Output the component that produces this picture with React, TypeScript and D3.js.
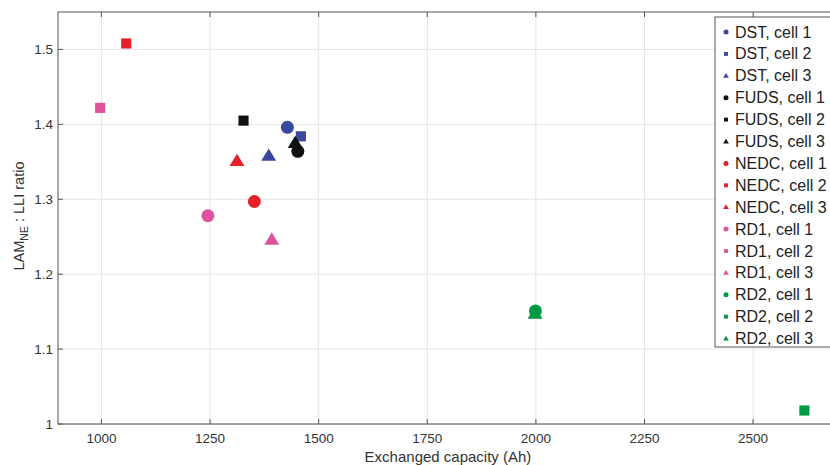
import React from "react";
import * as d3 from "d3";

const seriesNames = [
  "DST, cell 1", "DST, cell 2", "DST, cell 3",
  "FUDS, cell 1", "FUDS, cell 2", "FUDS, cell 3",
  "NEDC, cell 1", "NEDC, cell 2", "NEDC, cell 3",
  "RD1, cell 1", "RD1, cell 2", "RD1, cell 3",
  "RD2, cell 1", "RD2, cell 2", "RD2, cell 3",
];
const capacity = [1428, 1459, 1385, 1452, 1327, 1446, 1352, 1057, 1312, 1245, 997, 1392, 1999, 2618, 1998];
const ratio = [1.396, 1.384, 1.358, 1.364, 1.405, 1.375, 1.297, 1.508, 1.351, 1.278, 1.422, 1.246, 1.151, 1.018, 1.147];
const shapes = ["circle", "square", "triangle"];
const groupColors = ["#3a479c", "#111111", "#e5202a", "#df539d", "#009a44"];
const xTicks = [1000, 1250, 1500, 1750, 2000, 2250, 2500];
const yTicks = [1, 1.1, 1.2, 1.3, 1.4, 1.5];

const W = 830, H = 465;
const left = 58, right = 840, top = 12, bottom = 424;
const font = "'Liberation Sans', Arial, Helvetica, sans-serif";

function Marker({ shape, x, y, size, color }: { shape: string; x: number; y: number; size: number; color: string }) {
  if (shape === "circle") return <circle cx={x} cy={y} r={size * 0.5} fill={color} />;
  if (shape === "square") {
    const s = size * 0.78;
    return <rect x={x - s / 2} y={y - s / 2} width={s} height={s} fill={color} />;
  }
  const h = size * 0.95, w = size * 1.15;
  return <path d={`M${x},${y - h * 0.6}L${x + w / 2},${y + h * 0.4}L${x - w / 2},${y + h * 0.4}Z`} fill={color} />;
}

export default function App() {
  const x = d3.scaleLinear().domain([900, 2700]).range([left, right]);
  const y = d3.scaleLinear().domain([1, 1.55]).range([bottom, top]);
  const axisColor = "#555";
  const legX = 715, legY = 17, legH = 330, legStep = 21.9;
  return (
    <svg width={W} height={H} style={{ position: "absolute", left: 0, top: 0, background: "#fff" }}>
      <rect x={0} y={0} width={W} height={H} fill="#fff" />
      {xTicks.map((t) => (
        <line key={"gx" + t} x1={x(t)} x2={x(t)} y1={top} y2={bottom} stroke="#e6e6e6" strokeWidth={1} />
      ))}
      {yTicks.map((t) => (
        <line key={"gy" + t} x1={left} x2={right} y1={y(t)} y2={y(t)} stroke="#e6e6e6" strokeWidth={1} />
      ))}
      <rect x={left} y={top} width={right - left} height={bottom - top} fill="none" stroke={axisColor} strokeWidth={1} />
      {xTicks.map((t) => (
        <g key={"tx" + t}>
          <line x1={x(t)} x2={x(t)} y1={bottom} y2={bottom - 5} stroke={axisColor} />
          <line x1={x(t)} x2={x(t)} y1={top} y2={top + 5} stroke={axisColor} />
          <text x={x(t)} y={443} textAnchor="middle" fontSize={13.5} fill="#333" fontFamily={font}>{t}</text>
        </g>
      ))}
      {yTicks.map((t) => (
        <g key={"ty" + t}>
          <line x1={left} x2={left + 5} y1={y(t)} y2={y(t)} stroke={axisColor} />
          <text x={53} y={y(t) + 4.5} textAnchor="end" fontSize={13.5} fill="#333" fontFamily={font}>{d3.format("~g")(t)}</text>
        </g>
      ))}
      <text x={448} y={462} textAnchor="middle" fontSize={15} fill="#333" fontFamily={font}>Exchanged capacity (Ah)</text>
      <text transform={`translate(24,216) rotate(-90)`} textAnchor="middle" fontSize={14.5} fill="#333" fontFamily={font}>
        LAM<tspan fontSize={10.5} dy={4}>NE</tspan><tspan dy={-4}> : LLI ratio</tspan>
      </text>
      {seriesNames.map((n, i) => (
        <Marker key={"m" + n} shape={shapes[i % 3]} x={x(capacity[i])} y={y(ratio[i])} size={13} color={groupColors[Math.floor(i / 3)]} />
      ))}
      <rect x={legX} y={legY} width={140} height={legH} fill="#fff" stroke={axisColor} strokeWidth={1} />
      {seriesNames.map((n, i) => (
        <g key={"l" + n}>
          <Marker shape={shapes[i % 3]} x={726} y={legY + 15 + i * legStep} size={5} color={groupColors[Math.floor(i / 3)]} />
          <text x={735} y={legY + 15 + i * legStep + 5.5} fontSize={16} fill="#222" fontFamily={font}>{n}</text>
        </g>
      ))}
    </svg>
  );
}
